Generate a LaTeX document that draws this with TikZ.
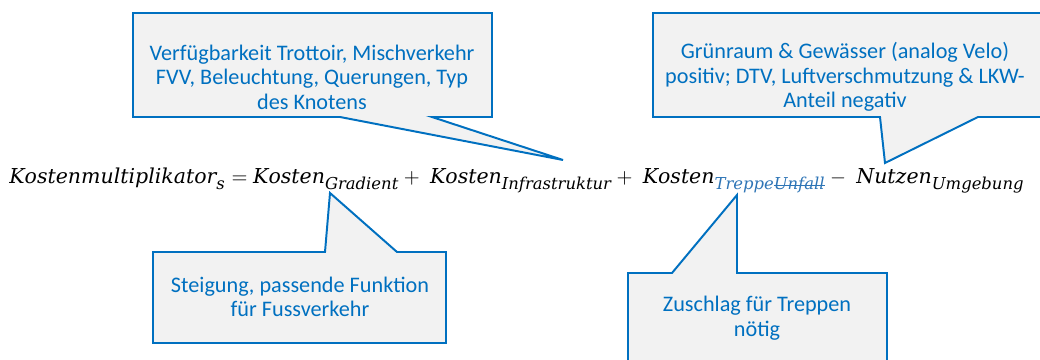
\documentclass[tikz,border=0pt]{standalone}
\usepackage{fontspec}
\usepackage{amsmath}
\usepackage{graphicx}
\setmainfont{DejaVu Serif}
\setsansfont{Carlito}
\DeclareMathSizes{10}{10}{8}{6}
\definecolor{callblue}{RGB}{0,112,192}
\definecolor{callfill}{RGB}{242,242,242}
\definecolor{treppeblue}{RGB}{46,117,182}
\newcommand{\strk}[1]{\setbox0\hbox{#1}\rlap{#1}\rule[0.4ex]{\wd0}{0.05em}}

\begin{document}
\begin{tikzpicture}[x=0.025cm, y=-0.025cm,
    callout/.style={draw=callblue, fill=callfill, line width=1.4pt, line join=miter},
    note/.style={align=center, text=callblue, inner sep=0pt,
                 font=\sffamily\fontsize{15.8}{17.4}\selectfont}]
  \clip (0,0) rectangle (1040,360);

  % Gleichung
  \node[anchor=base, inner sep=0pt] (eq) at (517,184) {\resizebox{25.375cm}{!}{$\mathit{Kostenmultiplikator}_{\mathit{s}} = \mathit{Kosten}_{\mathit{Gradient}} + \; \mathit{Kosten}_{\mathit{Infrastruktur}} + \; \mathit{Kosten}_{\color{treppeblue}\mathit{Treppe}\text{\strk{$\mathit{Unfall}$}}} - \; \mathit{Nutzen}_{\mathit{Umgebung}}$}};

  \coordinate (tipinfra) at (563,160);
  \coordinate (tipumg) at (885,163);
  \coordinate (tipgrad) at (330,193);
  \coordinate (tiptreppe) at (737,195);

  \draw[callout] (133,13) -- (492,13) -- (492,117) -- (432,117) -- (tipinfra) -- (340,117) -- (133,117) -- cycle;
  \draw[callout] (653,13) -- (1045,13) -- (1045,117) -- (978,117) -- (tipumg) -- (880,117) -- (653,117) -- cycle;
  \draw[callout] (153,252) -- (325,252) -- (tipgrad) -- (397,252) -- (446,252) -- (446,343) -- (153,343) -- cycle;
  \draw[callout] (628,273) -- (672,273) -- (tiptreppe) -- (737,273) -- (887,273) -- (887,370) -- (628,370) -- cycle;

  \node[note] (infra) at (312,77) {Verfügbarkeit Trottoir, Mischverkehr\\FVV, Beleuchtung, Querungen, Typ\\des Knotens};
  \node[note] (umg) at (845,77) {Grünraum \& Gewässer (analog Velo)\\positiv; DTV, Luftverschmutzung \& LKW-\\Anteil negativ};
  \node[note] (grad) at (300,297) {Steigung, passende Funktion\\für Fussverkehr};
  \node[note] (treppe) at (757,318) {Zuschlag für Treppen\\nötig};
\end{tikzpicture}
\end{document}
